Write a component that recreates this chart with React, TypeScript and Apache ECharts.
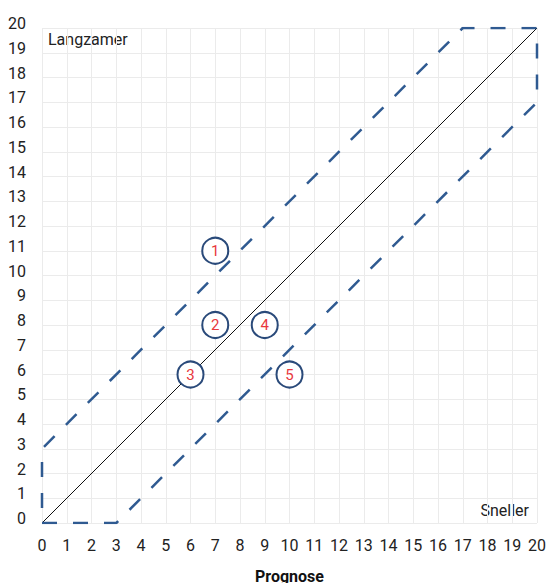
import React, { useEffect, useRef } from "react";
import * as echarts from "echarts";

const points: [number, number, string][] = [
  [7, 11, "1"],
  [7, 8, "2"],
  [6, 6, "3"],
  [9, 8, "4"],
  [10, 6, "5"],
];
const bandPolygon: [number, number][] = [
  [0, 0], [3, 0], [20, 17], [20, 20], [17, 20], [0, 3], [0, 0],
];
const diagonal: [number, number][] = [[0, 0], [20, 20]];
const axisMin = 0;
const axisMax = 20;
const xName = "Prognose";
const topLeftLabel = "Langzamer";
const bottomRightLabel = "Sneller";

export default function App() {
  const ref = useRef<HTMLDivElement>(null);
  useEffect(() => {
    const chart = echarts.init(ref.current!, null, { renderer: "svg" });
    const font = "Roboto, 'Noto Sans', sans-serif";
    chart.setOption({
      animation: false,
      textStyle: { fontFamily: font },
      grid: { left: 42, right: 10, top: 28, bottom: 60, containLabel: false, outerBoundsMode: "none" },
      xAxis: {
        type: "value",
        min: axisMin,
        max: axisMax,
        interval: 1,
        name: xName,
        nameLocation: "middle",
        nameGap: 45,
        nameTextStyle: { fontWeight: "bold", fontSize: 16, color: "#111", fontFamily: font },
        axisLine: { show: false },
        axisTick: { show: false },
        axisLabel: { fontSize: 16, color: "#222", margin: 14, fontFamily: font },
        splitLine: { lineStyle: { color: "#ebebeb", width: 1 } },
      },
      yAxis: {
        type: "value",
        min: axisMin,
        max: axisMax,
        interval: 1,
        axisLine: { show: false },
        axisTick: { show: false },
        axisLabel: {
          fontSize: 16,
          color: "#222",
          margin: 16,
          fontFamily: font,
          formatter: (v: number) => `{a|${v}}\n{b|}`,
          rich: {
            a: { fontSize: 16, lineHeight: 9, color: "#222", fontFamily: font },
            b: { fontSize: 1, lineHeight: 9 },
          },
        },
        splitLine: { lineStyle: { color: "#ebebeb", width: 1 } },
      },
      graphic: [
        { type: "text", left: 48, top: 31, style: { text: topLeftLabel, fontSize: 16, fill: "#222", fontFamily: font } },
        { type: "text", right: 18, top: 502, style: { text: bottomRightLabel, fontSize: 16, fill: "#222", fontFamily: font } },
      ],
      series: [
        {
          type: "line",
          data: diagonal,
          symbol: "none",
          lineStyle: { color: "#111", width: 1 },
          z: 2,
        },
        {
          type: "line",
          data: bandPolygon,
          symbol: "none",
          lineStyle: { color: "#2f5a91", width: 2.5, type: [15, 16] },
          z: 2,
        },
        {
          type: "scatter",
          data: points.map((p) => ({ value: [p[0], p[1]], name: p[2] })),
          symbol: "circle",
          symbolSize: 26,
          itemStyle: { color: "#fff", borderColor: "#2a4a7a", borderWidth: 2, opacity: 1 },
          label: {
            show: true,
            position: "inside",
            formatter: (p: any) => p.name,
            color: "#e8383d",
            fontSize: 15,
            fontFamily: font,
          },
          z: 5,
        },
      ],
    });
    return () => chart.dispose();
  }, []);
  return (
    <div
      ref={ref}
      style={{ position: "absolute", left: 0, top: 0, width: 547, height: 583, overflow: "hidden" }}
    />
  );
}
